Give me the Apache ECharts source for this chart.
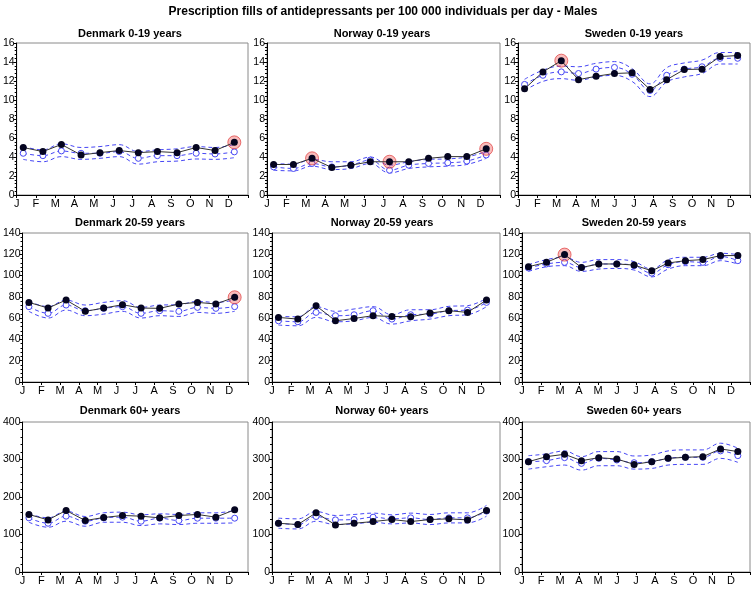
<!DOCTYPE html>
<html>
<head>
<meta charset="utf-8">
<script src="https://cdn.jsdelivr.net/npm/echarts@6/dist/echarts.min.js"></script>
<style>
html,body{margin:0;padding:0;background:#fff;}
#chart{width:756px;height:590px;}
</style>
</head>
<body>
<div id="chart"></div>
<script>
// ---------- DATA ----------
const mainTitle = 'Prescription fills of antidepressants per 100 000 individuals per day - Males';
const monthLabels = ['J','F','M','A','M','J','J','A','S','O','N','D'];
// x position (in months from 1 Jan) of monthly points (Denmark, Norway)
const monthPos = [0.34,1.36,2.32,3.34,4.32,5.32,6.31,7.3,8.32,9.31,10.29,11.29];
// x position of 4-week periods (Sweden, 13 per year)
const periodPos = [0.34,1.29,2.24,3.13,4.04,4.99,5.9,6.83,7.69,8.6,9.52,10.45,11.36];

const yMax = [16, 140, 400];
const yStep = [2, 20, 100];

// Denmark 0-19
const dk1Obs  = [5.0,4.57,5.32,4.21,4.46,4.68,4.46,4.57,4.46,5.0,4.68,5.54];
const dk1Pred = [4.39,4.14,4.64,4.39,4.39,4.57,3.86,4.14,4.14,4.39,4.32,4.54];
const dk1Up   = [5.1,4.75,5.4,5.0,5.1,5.3,4.57,4.75,4.86,5.1,5.0,5.3];
const dk1Lo   = [3.75,3.5,4.04,3.75,3.86,4.04,3.25,3.5,3.57,3.79,3.75,3.93];
const dk1Flag = [11];
// Norway 0-19
const no1Obs  = [3.21,3.21,3.86,2.89,3.14,3.5,3.5,3.5,3.86,4.04,4.04,4.86];
const no1Pred = [2.96,2.79,3.32,2.96,3.14,3.68,2.61,3.14,3.32,3.39,3.57,4.21];
const no1Up   = [3.3,3.25,3.75,3.5,3.5,4.0,3.14,3.5,3.75,3.8,4.0,4.57];
const no1Lo   = [2.6,2.54,3.04,2.68,2.79,3.32,2.32,2.79,2.96,3.04,3.21,3.86];
const no1Flag = [2,6,11];
// Sweden 0-19
const se1Obs  = [11.18,12.96,14.14,12.14,12.5,12.79,12.86,11.11,12.14,13.21,13.25,14.57,14.68];
const se1Pred = [11.64,12.6,12.96,12.79,13.25,13.43,12.71,11.0,12.6,13.25,13.5,14.39,14.39];
const se1Up   = [12.18,13.14,13.57,13.5,13.86,14.04,13.3,11.7,13.4,13.9,14.2,15.0,15.0];
const se1Lo   = [11.0,11.96,12.25,12.07,12.43,12.6,11.96,10.36,11.9,12.43,12.79,13.79,13.79];
const se1Flag = [2];
// Denmark 20-59
const dk2Obs  = [74.8,69.5,77.0,66.4,69.5,72.6,69.5,69.2,73.3,74.8,73.3,79.6];
const dk2Pred = [70.8,64.5,72.3,67.0,69.2,70.8,64.5,67.0,66.4,70.1,69.2,70.8];
const dk2Up   = [75.8,70.8,77.0,72.3,74.8,76.4,70.1,72.3,72.6,75.8,74.8,77.0];
const dk2Lo   = [66.4,60.1,67.6,62.3,63.8,66.4,60.1,62.3,61.6,65.4,64.5,66.4];
const dk2Flag = [11];
// Norway 20-59
const no2Obs  = [60.7,59.1,71.7,57.5,59.7,62.3,61.6,61.3,64.8,67.0,65.4,77.0];
const no2Pred = [57.5,56.6,65.4,62.3,63.2,67.0,59.1,63.2,63.8,67.0,67.6,74.8];
const no2Up   = [61.6,61.3,70.8,66.4,68.6,70.8,63.2,67.9,67.9,71.1,71.7,78.6];
const no2Lo   = [53.5,52.8,60.7,56.6,57.5,60.7,54.4,57.5,59.1,62.3,63.2,70.8];
const no2Flag = [];
// Sweden 20-59
const se2Obs  = [108.3,112.4,119.7,107.6,110.9,110.9,109.9,104.5,111.8,114.0,115.0,118.8,118.8];
const se2Pred = [107.1,110.9,112.4,107.6,110.9,110.9,109.3,102.3,110.2,113.1,112.4,118.1,114.0];
const se2Up   = [110.2,115.0,117.2,112.4,115.0,115.0,113.1,106.1,115.0,117.2,117.2,121.0,119.7];
const se2Lo   = [103.9,108.3,109.3,103.9,106.1,106.7,105.2,98.8,106.1,109.3,109.3,114.0,110.9];
const se2Flag = [2];
// Denmark 60+
const dk3Obs  = [153.4,139.0,164.1,137.2,145.3,150.7,148.9,144.4,150.7,153.4,146.2,165.9];
const dk3Pred = [144.4,130.0,148.9,135.4,144.4,146.2,135.4,143.5,137.2,143.5,143.5,143.5];
const dk3Up   = [155.2,144.4,162.3,148.0,157.8,159.6,152.5,155.2,153.4,157.8,157.8,164.1];
const dk3Lo   = [132.7,119.3,135.4,122.0,132.7,132.7,123.8,128.3,126.5,130.0,130.0,130.9];
const dk3Flag = [];
// Norway 60+
const no3Obs  = [130.0,126.5,157.8,125.6,130.0,134.5,139.9,134.5,139.9,141.7,139.0,164.1];
const no3Pred = [130.0,126.5,148.0,139.0,139.9,146.2,141.7,144.4,139.9,144.4,144.4,162.3];
const no3Up   = [143.5,141.7,161.4,150.7,153.4,157.0,152.5,157.0,153.4,157.8,157.8,177.6];
const no3Lo   = [116.6,114.8,135.4,126.5,128.3,132.7,128.3,130.9,126.5,130.9,130.9,148.9];
const no3Flag = [];
// Sweden 60+
const se3Obs  = [294.2,307.6,313.9,296.9,304.9,301.3,287.0,294.2,303.1,305.8,307.6,328.2,321.1];
const se3Pred = [294.2,296.9,304.9,289.7,303.1,298.7,291.5,294.2,303.1,305.8,305.8,322.9,310.3];
const se3Up   = [310.3,314.8,322.9,307.6,321.1,321.1,309.4,312.1,322.9,325.6,325.6,343.5,330.0];
const se3Lo   = [274.4,280.7,285.2,271.7,283.4,283.4,274.4,276.2,285.2,287.0,287.0,303.1,292.4];
const se3Flag = [];

const panels = [
  {title:'Denmark 0-19 years', x:monthPos, obs:dk1Obs, pred:dk1Pred, up:dk1Up, lo:dk1Lo, flag:dk1Flag},
  {title:'Norway 0-19 years',  x:monthPos, obs:no1Obs, pred:no1Pred, up:no1Up, lo:no1Lo, flag:no1Flag},
  {title:'Sweden 0-19 years',  x:periodPos, obs:se1Obs, pred:se1Pred, up:se1Up, lo:se1Lo, flag:se1Flag},
  {title:'Denmark 20-59 years', x:monthPos, obs:dk2Obs, pred:dk2Pred, up:dk2Up, lo:dk2Lo, flag:dk2Flag},
  {title:'Norway 20-59 years',  x:monthPos, obs:no2Obs, pred:no2Pred, up:no2Up, lo:no2Lo, flag:no2Flag},
  {title:'Sweden 20-59 years',  x:periodPos, obs:se2Obs, pred:se2Pred, up:se2Up, lo:se2Lo, flag:se2Flag},
  {title:'Denmark 60+ years', x:monthPos, obs:dk3Obs, pred:dk3Pred, up:dk3Up, lo:dk3Lo, flag:dk3Flag},
  {title:'Norway 60+ years',  x:monthPos, obs:no3Obs, pred:no3Pred, up:no3Up, lo:no3Lo, flag:no3Flag},
  {title:'Sweden 60+ years',  x:periodPos, obs:se3Obs, pred:se3Pred, up:se3Up, lo:se3Lo, flag:se3Flag}
];

// ---------- LAYOUT ----------
const rowTop = [43, 233, 422];
const rowH = [152, 149, 150];
const colLeft = [[15,267,518],[20,272,522],[20,272,522]];
const colRight = [248, 500, 750];
const titleCx = [125, 377, 629];
const titleY = [23, 212, 400];

const FONT = '"Liberation Sans", Arial, sans-serif';
const BLUE = '#4646f5';

const grids = [], xAxes = [], yAxes = [], series = [];
const titles = [{
  text: mainTitle, left: 378, top: 1, textAlign: 'center',
  textStyle: {fontSize: 12, fontWeight: 'bold', color: '#000', fontFamily: FONT}
}];

panels.forEach((p, i) => {
  const r = Math.floor(i / 3), c = i % 3;
  const left = colLeft[r][c];
  grids.push({
    left: left, top: rowTop[r], width: colRight[c] - left, height: rowH[r],
    show: true, borderColor: '#8a8a8a', borderWidth: 1, backgroundColor: '#fff'
  });
  titles.push({
    text: p.title, left: titleCx[c], top: titleY[r], textAlign: 'center',
    textStyle: {fontSize: 11, fontWeight: 'bold', color: '#000', fontFamily: FONT}
  });
  xAxes.push({
    type: 'value', gridIndex: i, min: 0, max: 12, interval: 1,
    axisLine: {show: true, onZero: false, lineStyle: {color: '#000', width: 1}},
    axisTick: {show: true, length: 3, lineStyle: {color: '#000'}},
    splitLine: {show: false},
    axisLabel: {
      margin: 3, fontSize: 11, color: '#000', fontFamily: FONT,
      formatter: v => (v < 12 ? monthLabels[v] : '')
    }
  });
  yAxes.push({
    type: 'value', gridIndex: i, min: 0, max: yMax[r], interval: yStep[r],
    axisLine: {show: true, lineStyle: {color: '#000', width: 1}},
    axisTick: {show: true, length: 3, lineStyle: {color: '#000'}},
    minorTick: {show: true, splitNumber: 5, length: 2, lineStyle: {color: '#000'}},
    splitLine: {show: false},
    axisLabel: {margin: 2, fontSize: 10.5, color: '#000', fontFamily: FONT}
  });
  const pts = arr => arr.map((v, k) => [p.x[k], v]);
  const dashed = {color: BLUE, width: 1, type: [4, 3]};
  series.push({
    type: 'line', xAxisIndex: i, yAxisIndex: i, data: pts(p.lo), smooth: 0.4,
    showSymbol: false, symbol: 'none', lineStyle: dashed, silent: true, z: 2
  });
  series.push({
    type: 'line', xAxisIndex: i, yAxisIndex: i, data: pts(p.up), smooth: 0.4,
    showSymbol: false, symbol: 'none', lineStyle: dashed, silent: true, z: 2
  });
  series.push({
    type: 'line', xAxisIndex: i, yAxisIndex: i, data: pts(p.pred), smooth: 0.4,
    symbol: 'circle', symbolSize: 6, showSymbol: true, lineStyle: dashed,
    itemStyle: {color: '#ffffff', borderColor: BLUE, borderWidth: 1}, z: 3
  });
  series.push({
    type: 'scatter', xAxisIndex: i, yAxisIndex: i,
    data: p.flag.map(k => [p.x[k], p.obs[k]]),
    symbol: 'circle', symbolSize: 13,
    itemStyle: {color: 'rgba(235,70,70,0.45)', borderColor: 'rgba(220,40,40,0.8)', borderWidth: 1}, z: 4
  });
  series.push({
    type: 'line', xAxisIndex: i, yAxisIndex: i, data: pts(p.obs),
    symbol: 'circle', symbolSize: 7, showSymbol: true,
    lineStyle: {color: '#333', width: 1},
    itemStyle: {color: '#050520'}, z: 5
  });
});

const chart = echarts.init(document.getElementById('chart'), null, {renderer: 'canvas'});
chart.setOption({
  animation: false,
  backgroundColor: '#fff',
  title: titles,
  grid: grids,
  xAxis: xAxes,
  yAxis: yAxes,
  series: series
});
</script>
</body>
</html>
